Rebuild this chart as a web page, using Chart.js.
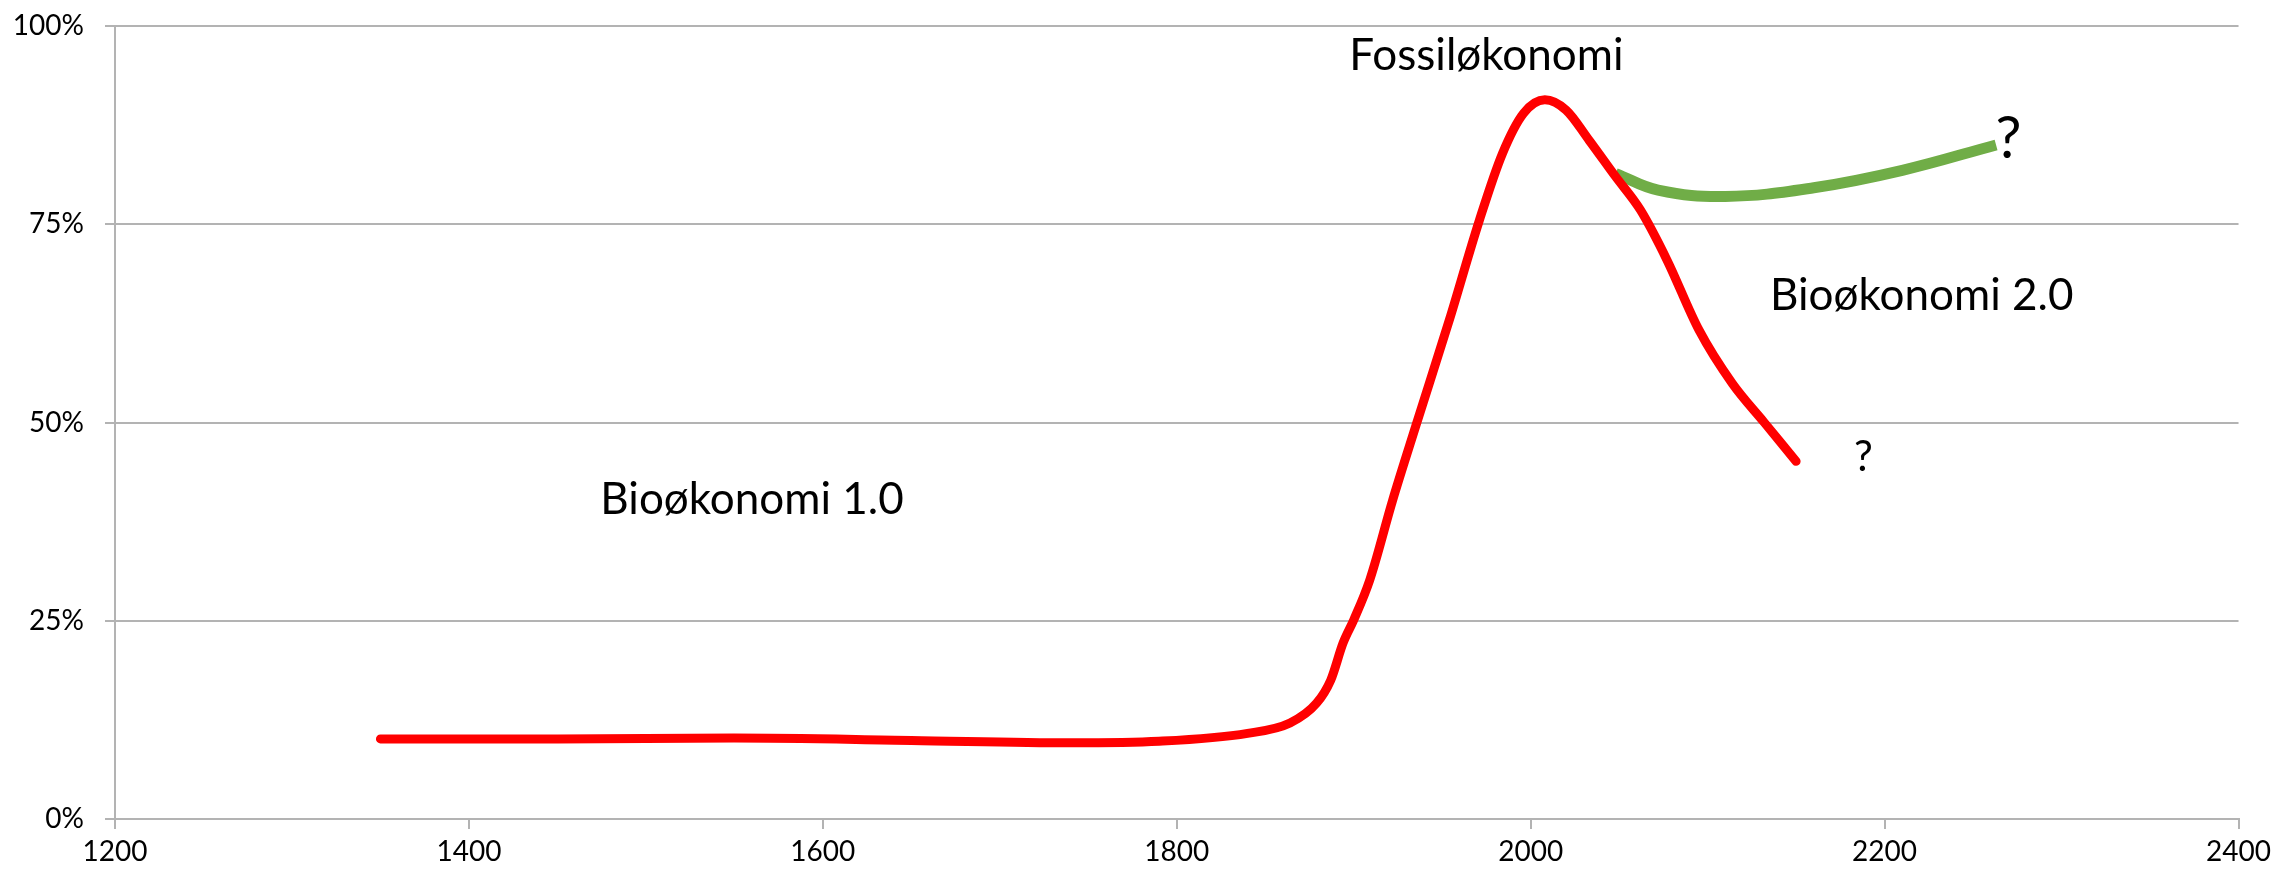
<!DOCTYPE html>
<html>
<head>
<meta charset="utf-8">
<script src="https://cdn.jsdelivr.net/npm/chart.js@4/dist/chart.umd.min.js"></script>
<style>
  html, body { margin: 0; padding: 0; background: #fff; }
  #wrap { width: 2277px; height: 874px; }
</style>
</head>
<body>
<div id="wrap"><canvas id="econChart" width="2277" height="874"></canvas></div>
<script>
// Red curve: fossil share over time
const fossilYears = [1350, 1450, 1550, 1650, 1740, 1790, 1840, 1864, 1879, 1887, 1894, 1900, 1909, 1922, 1935, 1954, 1971, 1984, 1996, 2008, 2020, 2033, 2048, 2062, 2077, 2095, 2114, 2132, 2150];
const fossilShare = [10.1, 10.1, 10.2, 9.9, 9.6, 9.8, 10.8, 12.1, 14.6, 17.5, 22.2, 25.1, 30.1, 40.2, 49.5, 62.9, 75.5, 83.9, 89, 90.7, 89.4, 85.6, 81, 76.8, 70.5, 61.7, 54.9, 50, 45.1];

// Green curve: bioeconomy 2.0
const bioYears = [2048, 2072, 2110, 2160, 2210, 2263];
const bioShare = [81.4, 79.3, 78.5, 79.6, 81.8, 85];

// Axis ticks
const xTicks = [1200, 1400, 1600, 1800, 2000, 2200, 2400];
const yTicks = [0, 25, 50, 75, 100];

// Text annotations (placed in data coordinates)
const notes = [
    { text: 'Fossiløkonomi', x: 1975, y: 96.3, size: 44 },
    { text: 'Bioøkonomi 1.0', x: 1560, y: 40.3, size: 44 },
    { text: 'Bioøkonomi 2.0', x: 2221, y: 66, size: 44 },
    { text: '?', x: 2188, y: 45.6, size: 42 },
    { text: '?', x: 2270, y: 85.7, size: 58 }
];

const toPoints = (xs, ys) => xs.map((x, i) => ({ x: x, y: ys[i] }));

const notesPlugin = {
    id: 'notes',
    afterDatasetsDraw(chart) {
        const ctx = chart.ctx;
        const xs = chart.scales.x;
        const ys = chart.scales.y;
        ctx.save();
        ctx.fillStyle = '#000';
        ctx.textAlign = 'center';
        ctx.textBaseline = 'middle';
        notes.forEach(n => {
            ctx.font = n.size + 'px Lato';
            ctx.fillText(n.text, xs.getPixelForValue(n.x), ys.getPixelForValue(n.y));
        });
        ctx.restore();
    }
};

const gridGray = '#b3b3b3';

new Chart(document.getElementById('econChart').getContext('2d'), {
    type: 'line',
    data: {
        datasets: [{
            label: 'Fossiløkonomi',
            data: toPoints(fossilYears, fossilShare),
            borderColor: '#ff0000',
            borderWidth: 9,
            borderCapStyle: 'round',
            borderJoinStyle: 'round',
            cubicInterpolationMode: 'monotone',
            pointRadius: 0,
            fill: false
        }, {
            label: 'Bioøkonomi 2.0',
            data: toPoints(bioYears, bioShare),
            borderColor: '#70ad47',
            borderWidth: 11,
            borderCapStyle: 'butt',
            tension: 0.4,
            pointRadius: 0,
            fill: false
        }]
    },
    options: {
        responsive: false,
        animation: false,
        layout: {
            padding: { top: 26, right: 38, left: 0, bottom: 0 }
        },
        plugins: {
            legend: { display: false },
            tooltip: { enabled: false }
        },
        scales: {
            x: {
                type: 'linear',
                min: 1200,
                max: 2400,
                afterBuildTicks: axis => { axis.ticks = xTicks.map(v => ({ value: v })); },
                afterFit: axis => { axis.height = 55; },
                ticks: {
                    color: '#000',
                    font: { family: 'Lato', size: 28 },
                    padding: 6,
                    maxRotation: 0,
                    callback: v => String(v)
                },
                grid: {
                    drawOnChartArea: false,
                    drawTicks: true,
                    tickLength: 10,
                    color: gridGray,
                    lineWidth: 2
                },
                border: { display: true, color: gridGray, width: 2 }
            },
            y: {
                min: 0,
                max: 100,
                afterBuildTicks: axis => { axis.ticks = yTicks.map(v => ({ value: v })); },
                afterFit: axis => {
                    axis.width = 115;
                    axis.paddingTop = 0;
                    axis.paddingBottom = 0;
                },
                ticks: {
                    color: '#000',
                    font: { family: 'Lato', size: 28 },
                    padding: 21,
                    callback: v => v + '%'
                },
                grid: {
                    drawTicks: true,
                    tickLength: 10,
                    color: gridGray,
                    lineWidth: 2
                },
                border: { display: true, color: gridGray, width: 2 }
            }
        }
    },
    plugins: [notesPlugin]
});
</script>
</body>
</html>
